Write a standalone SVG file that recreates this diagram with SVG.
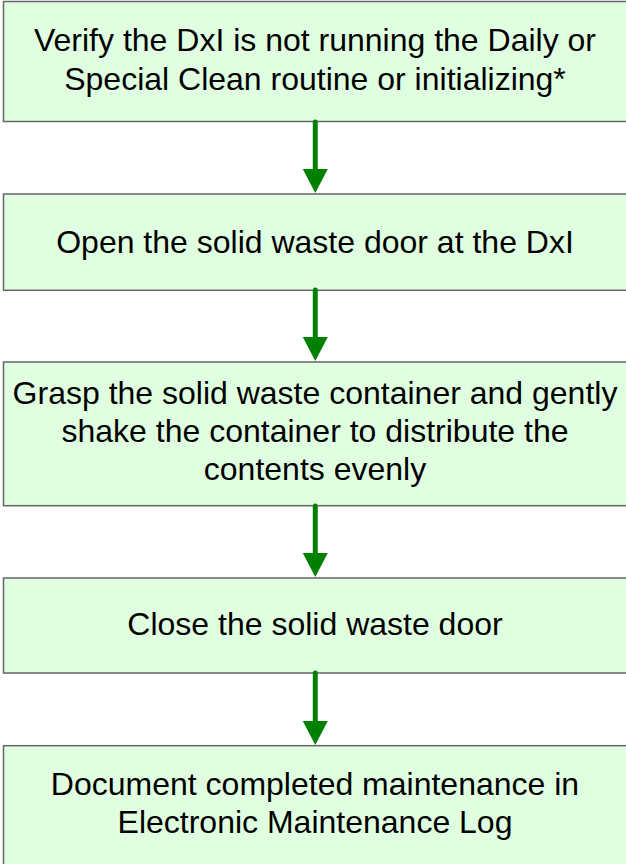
<svg xmlns="http://www.w3.org/2000/svg" width="626" height="864" viewBox="0 0 626 864">
<defs>
<style>
.box{fill:#e0ffe0;stroke:#666666;stroke-width:1.5}
.lbl{font-family:"Liberation Sans",Arial,sans-serif;font-size:32px;fill:#000;text-anchor:middle}
.conn{stroke:#008000;stroke-width:5;stroke-linecap:round;fill:none}
.head{fill:#008000}
</style>
</defs>
<rect x="0" y="0" width="626" height="864" fill="#ffffff"/>
<g id="node1">
<rect class="box" x="3.5" y="1.5" width="630" height="120"/>
<text class="lbl" x="315" y="51">Verify the DxI is not running the Daily or</text>
<text class="lbl" x="315" y="89.5">Special Clean routine or initializing*</text>
</g>
<g id="node2">
<rect class="box" x="3.5" y="194" width="630" height="96.3"/>
<text class="lbl" x="315" y="253.3">Open the solid waste door at the DxI</text>
</g>
<g id="node3">
<rect class="box" x="3.5" y="362" width="630" height="143.7"/>
<text class="lbl" x="315" y="404">Grasp the solid waste container and gently</text>
<text class="lbl" x="315" y="442">shake the container to distribute the</text>
<text class="lbl" x="315" y="480">contents evenly</text>
</g>
<g id="node4">
<rect class="box" x="3.5" y="578" width="630" height="95"/>
<text class="lbl" x="315" y="635.3">Close the solid waste door</text>
</g>
<g id="node5">
<rect class="box" x="3.5" y="745.7" width="630" height="130"/>
<text class="lbl" x="315" y="795">Document completed maintenance in</text>
<text class="lbl" x="315" y="833">Electronic Maintenance Log</text>
</g>
<g id="connectors">
<line class="conn" x1="315.3" y1="122" x2="315.3" y2="172"/>
<polygon class="head" points="302.8,169 327.8,169 315.3,193"/>
<line class="conn" x1="315.3" y1="290" x2="315.3" y2="340"/>
<polygon class="head" points="302.8,337 327.8,337 315.3,361"/>
<line class="conn" x1="315.3" y1="506" x2="315.3" y2="556"/>
<polygon class="head" points="302.8,553 327.8,553 315.3,577"/>
<line class="conn" x1="315.3" y1="673" x2="315.3" y2="724"/>
<polygon class="head" points="302.8,721 327.8,721 315.3,745"/>
</g>
</svg>
